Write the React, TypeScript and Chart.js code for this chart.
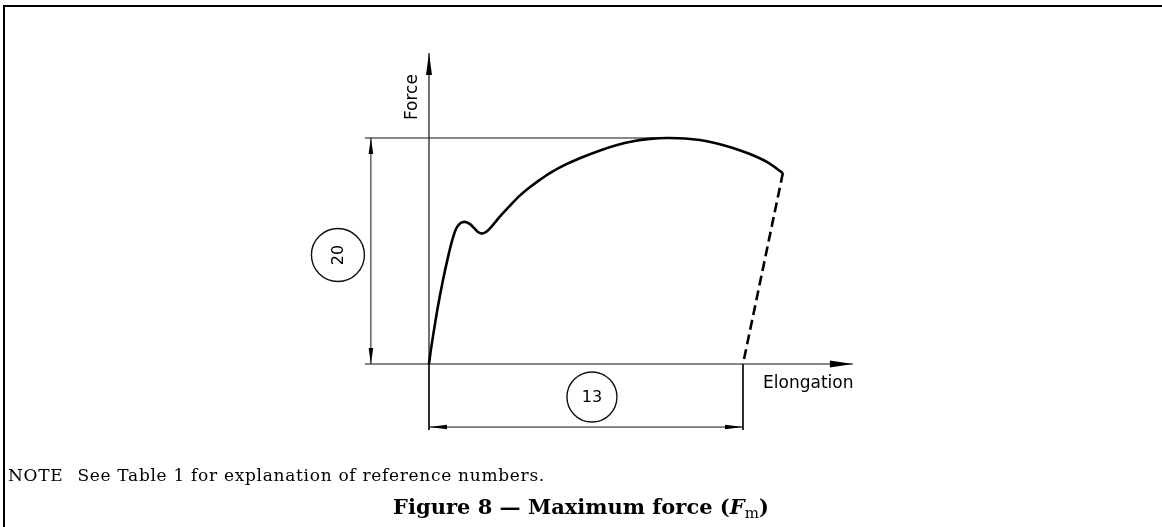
import React, { useEffect, useRef } from "react";
import { Chart, registerables } from "chart.js";

Chart.register(...registerables);

// ---- Data (elongation units: 100 = elongation mark; force units: 100 = Fm) ----
const curveElongation = [
  0, 0.64, 1.59, 2.87, 4.46, 6.05, 7.32, 8.6, 9.87, 11.46, 13.06, 14.33, 15.61, 16.88, 18.15, 19.43, 21.02, 22.61,
  25.8, 29.0, 32.2, 35.4, 38.5, 43.6, 49.0, 54.5, 59.9, 65.0, 70.4, 75.8, 81.5, 86.3, 91.7, 96.8, 102.2, 107.6, 112.7,
];
const curveForce = [
  0, 6.6, 15.0, 25.7, 37.2, 47.3, 54.4, 59.7, 62.2, 62.9, 61.9, 60.2, 58.4, 57.7, 58.4, 60.0, 62.6, 65.3,
  70.1, 74.6, 78.3, 81.6, 84.5, 88.3, 91.6, 94.5, 96.9, 98.6, 99.6, 100, 99.8, 99.1, 97.6, 95.6, 92.9, 89.4, 84.5,
];

const unloadElongation = [112.7, 100];
const unloadForce = [84.5, 0];

const xAxisExtent = [-20.4, 135.0];
const yAxisExtent = [0, 137.6];
const fmLineExtent = [-20.4, 80];
const fmLevel = 100;

const dim20X = -18.5;
const dim20Range = [0, 100];
const dim13Y = -27.9;
const dim13Range = [0, 100];
const extensionLineX = [0, 100];
const extensionLineY = [0, -29.2];

const refLabels = ["20", "13"];
const refLabelX = [-29.0, 51.9];
const refLabelY = [48.2, -14.6];
const refLabelRotated = [true, false];

const axisTitles = ["Force", "Elongation"];
const axisTitleX = [-5.1, 106.4];
const axisTitleY = [118.1, -8.8];

const noteText = "See Table 1 for explanation of reference numbers.";
const figureTitle = "Figure 8 \u2014 Maximum force (";

// ---- Scale bounds ----
const xMin = -136.62;
const xMax = 233.44;
const yMin = -72.12;
const yMax = 161.06;

function pairs(xs: number[], ys: number[]) {
  return xs.map((v, i) => ({ x: v, y: ys[i] }));
}

function arrow(ctx: CanvasRenderingContext2D, tx: number, ty: number, dx: number, dy: number, len: number, hw: number) {
  const bx = tx - dx * len;
  const by = ty - dy * len;
  const nx = -dy;
  const ny = dx;
  ctx.beginPath();
  ctx.moveTo(tx, ty);
  ctx.lineTo(bx + nx * hw, by + ny * hw);
  ctx.lineTo(bx - nx * hw, by - ny * hw);
  ctx.closePath();
  ctx.fill();
}

const overlayPlugin = {
  id: "overlay",
  afterDatasetsDraw(chart: any) {
    const ctx: CanvasRenderingContext2D = chart.ctx;
    const xs = chart.scales.x;
    const ys = chart.scales.y;
    const px = (v: number) => xs.getPixelForValue(v);
    const py = (v: number) => ys.getPixelForValue(v);
    ctx.save();
    ctx.fillStyle = "#000";
    ctx.strokeStyle = "#111";

    // axis arrows
    arrow(ctx, px(xAxisExtent[1]), py(0), 1, 0, 23, 3.5);
    arrow(ctx, px(0), py(yAxisExtent[1]), 0, -1, 22, 3);

    // dimension arrows
    arrow(ctx, px(dim20X), py(dim20Range[1]), 0, -1, 16, 2.3);
    arrow(ctx, px(dim20X), py(dim20Range[0]), 0, 1, 16, 2.3);
    arrow(ctx, px(dim13Range[0]), py(dim13Y), -1, 0, 18, 2.3);
    arrow(ctx, px(dim13Range[1]), py(dim13Y), 1, 0, 18, 2.3);

    // reference number balloons
    ctx.lineWidth = 1.4;
    ctx.font = '16px "DejaVu Sans"';
    ctx.textAlign = "center";
    ctx.textBaseline = "middle";
    refLabels.forEach((t, i) => {
      const cx = px(refLabelX[i]);
      const cy = py(refLabelY[i]);
      const r = i === 0 ? 26.5 : 25;
      ctx.beginPath();
      ctx.arc(cx, cy, r, 0, Math.PI * 2);
      ctx.stroke();
      ctx.save();
      ctx.translate(cx, cy);
      if (refLabelRotated[i]) ctx.rotate(-Math.PI / 2);
      ctx.fillText(t, 0, 1);
      ctx.restore();
    });

    // axis titles
    ctx.font = '17px "DejaVu Sans"';
    ctx.save();
    ctx.translate(px(axisTitleX[0]), py(axisTitleY[0]));
    ctx.rotate(-Math.PI / 2);
    ctx.textAlign = "center";
    ctx.fillText(axisTitles[0], 0, 0);
    ctx.restore();
    ctx.textAlign = "left";
    ctx.fillText(axisTitles[1], px(axisTitleX[1]), py(axisTitleY[1]));

    ctx.restore();
  },
};

export default function App() {
  const ref = useRef<HTMLCanvasElement | null>(null);

  useEffect(() => {
    if (!ref.current) return;
    const thin = { borderColor: "#111", borderWidth: 1.2, pointRadius: 0, showLine: true, fill: false };
    const chart = new Chart(ref.current, {
      type: "scatter",
      data: {
        datasets: [
          {
            data: pairs(curveElongation, curveForce),
            borderColor: "#000",
            borderWidth: 2.6,
            pointRadius: 0,
            showLine: true,
            tension: 0.3,
          } as any,
          {
            data: pairs(unloadElongation, unloadForce),
            borderColor: "#000",
            borderWidth: 2.6,
            borderDash: [10, 5],
            pointRadius: 0,
            showLine: true,
          } as any,
          { ...thin, data: pairs(xAxisExtent, [0, 0]) },
          { ...thin, data: pairs([0, 0], yAxisExtent) },
          { ...thin, borderWidth: 1, data: pairs(fmLineExtent, [fmLevel, fmLevel]) },
          { ...thin, borderWidth: 1, data: pairs([dim20X, dim20X], dim20Range) },
          { ...thin, borderWidth: 1, data: pairs(dim13Range, [dim13Y, dim13Y]) },
          { ...thin, borderWidth: 1, data: pairs([extensionLineX[0], extensionLineX[0]], extensionLineY) },
          { ...thin, borderWidth: 1, data: pairs([extensionLineX[1], extensionLineX[1]], extensionLineY) },
        ],
      },
      options: {
        animation: false,
        responsive: false,
        devicePixelRatio: 1,
        layout: { padding: 0 },
        plugins: { legend: { display: false }, tooltip: { enabled: false }, title: { display: false } },
        scales: {
          x: { type: "linear", min: xMin, max: xMax, display: false },
          y: { type: "linear", min: yMin, max: yMax, display: false },
        },
      },
      plugins: [overlayPlugin],
    });
    return () => chart.destroy();
  }, []);

  return (
    <div style={{ position: "absolute", left: 0, top: 0, width: 1162, height: 527, background: "#fff", overflow: "hidden" }}>
      <canvas ref={ref} width={1162} height={527} style={{ position: "absolute", left: 0, top: 0, width: 1162, height: 527 }} />
      <div style={{ position: "absolute", left: 3, top: 5, right: 0, bottom: 0, borderTop: "2px solid #000", borderLeft: "2px solid #000" }} />
      <div style={{ position: "absolute", left: 8, top: 467, font: '17px "DejaVu Serif"', lineHeight: "17px", letterSpacing: "0.7px", whiteSpace: "pre", color: "#000" }}>
        NOTE<span style={{ marginLeft: 14 }}>{noteText}</span>
      </div>
      <div style={{ position: "absolute", left: 0, width: 1162, top: 496, textAlign: "center", font: 'bold 21px "DejaVu Serif"', lineHeight: "21px", whiteSpace: "pre", color: "#000" }}>
        {figureTitle}
        <i>F</i>
        <span style={{ fontWeight: "normal", fontSize: 15, position: "relative", top: 4 }}>m</span>)
      </div>
    </div>
  );
}
